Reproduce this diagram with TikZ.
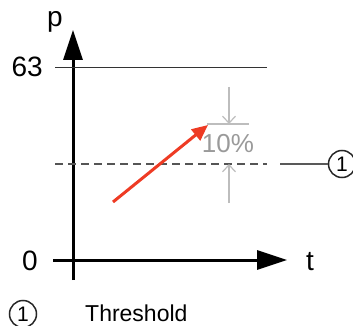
\documentclass[tikz,border=0pt]{standalone}
\usepackage{fontspec}
\setmainfont{Liberation Sans}
\usetikzlibrary{arrows.meta,positioning}
\definecolor{Signal}{HTML}{EE3B24}
\definecolor{Dim}{HTML}{BDBDBD}
\definecolor{DimText}{HTML}{9A9A9A}
\definecolor{Ink}{HTML}{555555}

\begin{document}
\begin{tikzpicture}[x=1pt,y=-1pt,
  lab/.style={inner sep=0pt,font=\fontsize{28}{30}\selectfont},
  axis/.style={line width=3pt,-{Triangle[length=30pt,width=19pt]}},
  ref/.style={line width=1pt,draw=black!80},
  thr/.style={line width=1.2pt,draw=Ink,dash pattern=on 8pt off 5pt},
  dim/.style={line width=1.2pt,draw=Dim},
  dimar/.style={dim,-{Straight Barb[length=7pt,width=13pt]}},
  num/.style={circle,draw=black!85,line width=1.5pt,inner sep=3pt,
              minimum size=27pt,font=\fontsize{21}{22}\selectfont},
  rise/.style={line width=3pt,draw=Signal,-{Triangle[length=16pt,width=14pt]},Signal}]
\useasboundingbox (0,0) rectangle (353,326);
% axes
\coordinate (ybot) at (73,280);
\coordinate (ytop) at (73,30);
\coordinate (xl) at (53,260);
\coordinate (xr) at (287,260);
\draw[axis] (ybot) -- (ytop);
\draw[axis] (xl) -- (xr);
\node[lab,anchor=base] (p) at (55,27) {p};
\node[lab,anchor=base] (t) at (310,270) {t};
\node[lab,anchor=base east] (max) at (43,77) {63};
\node[lab,anchor=base] (zero) at (30,270) {0};
% max level and threshold
\coordinate (m0) at (55,68);
\coordinate (m1) at (267,68);
\draw[ref] (m0) -- (m1);
\coordinate (h0) at (55,164);
\coordinate (h1) at (267,164);
\draw[thr] (h0) -- (h1);
\node[num] (n1) at (342,164) {1};
\coordinate (lead) at (280,164);
\draw[line width=2pt,draw=black!65] (lead) -- (n1.west);
% 10% band
\coordinate (d0) at (229,87);
\coordinate (d1) at (229,124);
\coordinate (d2) at (229,203);
\coordinate (d3) at (229,164);
\coordinate (e0) at (207,124);
\coordinate (e1) at (249,124);
\draw[dimar] (d0) -- (d1);
\draw[dimar] (d2) -- (d3);
\draw[dim] (e0) -- (e1);
\node[lab,text=DimText,font=\fontsize{26}{28}\selectfont] (pct) at (228,144) {10\%};
% rising signal
\coordinate (s0) at (113,202);
\coordinate (s1) at (208,125);
\draw[rise] (s0) -- (s1);
% legend
\node[num] (l1) at (23,314) {1};
\node[inner sep=0pt,anchor=base west,font=\fontsize{23}{25}\selectfont] (thrtext) at (85,321) {Threshold};
\end{tikzpicture}
\end{document}
